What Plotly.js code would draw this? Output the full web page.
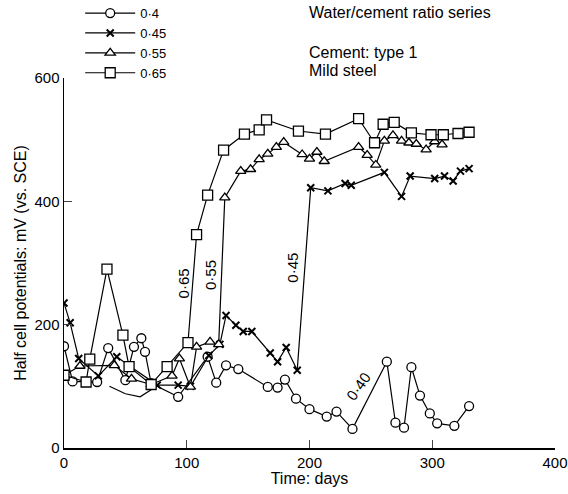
<!DOCTYPE html>
<html>
<head>
<meta charset="utf-8">
<script src="https://cdn.plot.ly/plotly-3.0.1.min.js"></script>
<style>html,body{margin:0;padding:0;background:#fff;}#chart{width:568px;height:494px;}</style>
</head>
<body>
<div id="chart"></div>
<script>
// Water/cement ratio 0.40 (circles)
const days040 = [0, 7, 27, 36, 50, 57, 63, 66, 71, 93, 117, 124, 132, 142, 166, 174, 180, 189, 200, 214, 222, 235, 263, 270, 277, 283, 290, 298, 304, 318, 330];
const mv040   = [165, 108, 107, 162, 110, 164, 178, 156, 105, 83, 148, 106, 134, 128, 99, 98, 111, 80, 63, 51, 59, 31, 140, 41, 33, 131, 85, 56, 40, 36, 68];
// unmarked connecting curve of the 0.40 series
const days040b = [37, 50, 62, 77];
const mv040b   = [100, 88, 83, 102];
// 0.45 (crosses)
const days045 = [0, 5, 12, 28, 43, 54, 76, 93, 103, 118, 127, 132, 140, 146, 153, 168, 174, 181, 190, 201, 215, 229, 234, 261, 275, 282, 302, 310, 317, 323, 330];
const mv045   = [235, 203, 145, 117, 148, 132, 102, 102, 100, 150, 168, 215, 199, 189, 189, 154, 140, 163, 126, 422, 417, 429, 426, 447, 408, 441, 437, 441, 433, 449, 453];
// 0.55 (triangles)
const days055 = [0, 13, 41, 55, 71, 88, 94, 103, 108, 119, 126, 131, 144, 152, 159, 166, 173, 179, 194, 200, 206, 212, 240, 247, 254, 261, 268, 275, 281, 287, 295, 302, 308];
const mv055   = [118, 133, 134, 112, 103, 117, 145, 99, 164, 172, 168, 406, 449, 452, 468, 477, 488, 496, 476, 469, 480, 465, 488, 475, 459, 498, 507, 498, 495, 493, 484, 497, 492];
// 0.65 (squares)
const days065 = [0, 18, 21, 35, 48, 53, 71, 84, 101, 108, 117, 130, 147, 159, 165, 191, 213, 240, 253, 260, 269, 283, 299, 309, 321, 330];
const mv065   = [118, 107, 144, 290, 183, 132, 103, 132, 171, 346, 410, 483, 509, 516, 532, 514, 509, 534, 495, 525, 528, 511, 508, 508, 510, 512];

const FONT = 'Liberation Sans, Arial, sans-serif';
const lineStyle = {color: '#000', width: 1.2};
function mk(sym, size) { return {symbol: sym, size: size, color: '#fff', line: {color: '#000', width: 1.3}}; }

const traces = [
  {x: days040b, y: mv040b, name: 'curve', mode: 'lines', line: lineStyle, showlegend: false, hoverinfo: 'skip'},
  {x: days040, y: mv040, name: '0·4', mode: 'lines+markers', line: lineStyle, marker: mk('circle', 9)},
  {x: days045, y: mv045, name: '0·45', mode: 'lines+markers', line: lineStyle, marker: {symbol: 'x-thin-open', size: 7, color: '#000', line: {color: '#000', width: 2}}},
  {x: days055, y: mv055, name: '0·55', mode: 'lines+markers', line: lineStyle, marker: mk('triangle-up', 9)},
  {x: days065, y: mv065, name: '0·65', mode: 'lines+markers', line: lineStyle, marker: mk('square', 10)}
];

const layout = {
  width: 568, height: 494,
  margin: {l: 64, r: 13, t: 78, b: 46, autoexpand: false},
  paper_bgcolor: '#fff', plot_bgcolor: '#fff',
  font: {family: FONT, size: 15, color: '#000'},
  showlegend: true,
  legend: {x: 0.033, y: 1.216, xanchor: 'left', yanchor: 'top', bgcolor: 'rgba(0,0,0,0)', font: {size: 13}, itemwidth: 50, tracegroupgap: 0, traceorder: 'normal'},
  xaxis: {range: [0, 400], tickvals: [0, 100, 200, 300, 400], ticks: 'inside', ticklen: 8, tickwidth: 1.3,
          showline: true, linewidth: 1.5, linecolor: '#000', showgrid: false, zeroline: false,
          tickfont: {size: 15}, title: {text: 'Time: days', font: {size: 16}, standoff: 2}},
  yaxis: {range: [0, 600], tickvals: [0, 200, 400, 600], ticks: 'inside', ticklen: 8, tickwidth: 1.3,
          showline: true, linewidth: 1.5, linecolor: '#000', showgrid: false, zeroline: false,
          tickfont: {size: 15}, title: {text: 'Half cell potentials: mV (vs. SCE)', font: {size: 16}, standoff: 4}},
  annotations: [
    {x: 97, y: 267, xref: 'x', yref: 'y', text: '0·65', showarrow: false, textangle: -90, font: {size: 15}},
    {x: 119.5, y: 280, xref: 'x', yref: 'y', text: '0·55', showarrow: false, textangle: -90, font: {size: 15}},
    {x: 186, y: 293, xref: 'x', yref: 'y', text: '0·45', showarrow: false, textangle: -90, font: {size: 15}},
    {x: 240, y: 99, xref: 'x', yref: 'y', text: '0·40', showarrow: false, textangle: -55, font: {size: 15}},
    {x: 307, y: 12, xref: 'paper', yref: 'paper', xanchor: 'left', yanchor: 'middle', text: 'Water/cement ratio series', showarrow: false, font: {size: 16}},
    {x: 307, y: 52, xref: 'paper', yref: 'paper', xanchor: 'left', yanchor: 'middle', text: 'Cement: type 1', showarrow: false, font: {size: 16}},
    {x: 307, y: 70, xref: 'paper', yref: 'paper', xanchor: 'left', yanchor: 'middle', text: 'Mild steel', showarrow: false, font: {size: 16}}
  ]
};
// convert pixel positions of the top-right notes to paper coordinates
layout.annotations.forEach(a => {
  if (a.xref === 'paper') {
    a.x = (a.x - 64) / 491;
    a.y = (448 - a.y) / 370;
  }
});

Plotly.newPlot('chart', traces, layout, {displayModeBar: false, staticPlot: true});
</script>
</body>
</html>
